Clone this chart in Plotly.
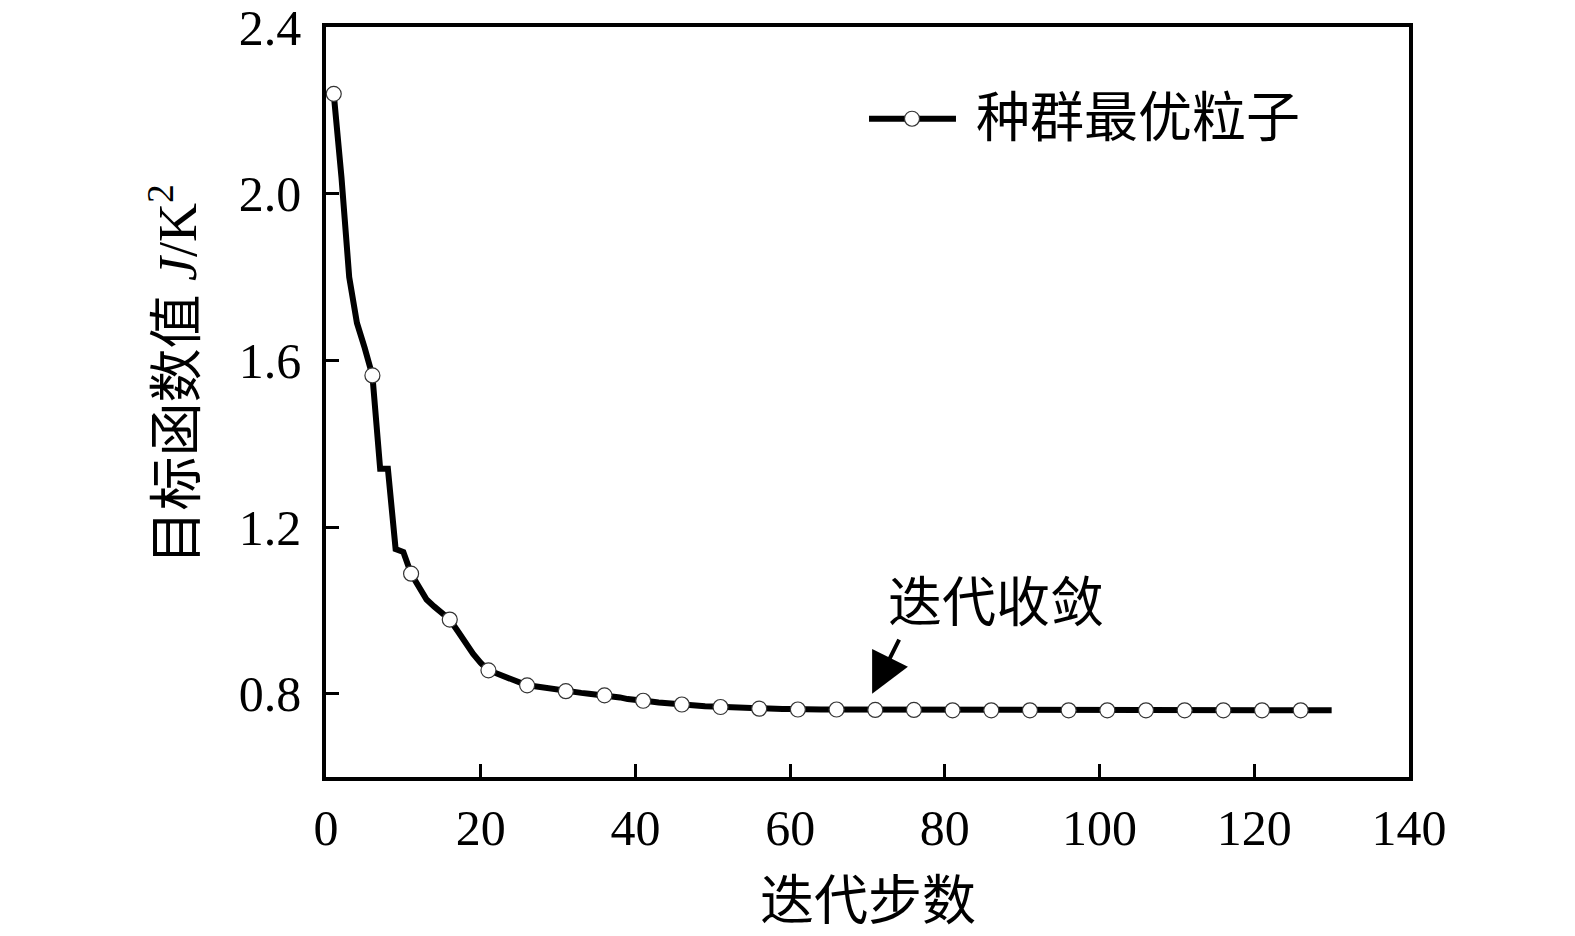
import plotly.graph_objects as go

# iteration index and best-particle objective value
iterations = list(range(1, 131))
best_value = [
    2.240, 2.040, 1.800, 1.690, 1.630, 1.564, 1.340, 1.340, 1.147, 1.140,
    1.088, 1.055, 1.026, 1.009, 0.993, 0.978, 0.951, 0.921, 0.896, 0.874,
    0.856, 0.849, 0.842, 0.836, 0.829, 0.820, 0.818, 0.815, 0.811, 0.808,
    0.806, 0.804, 0.802, 0.800, 0.798, 0.796, 0.795, 0.791, 0.787, 0.784,
    0.783, 0.781, 0.779, 0.777, 0.775, 0.774, 0.772, 0.771, 0.770, 0.769,
    0.768, 0.767, 0.766, 0.765, 0.765, 0.764, 0.764, 0.763, 0.763, 0.763,
    0.762, 0.762, 0.762, 0.762, 0.762, 0.762, 0.761, 0.761, 0.761, 0.761,
    0.761, 0.761, 0.761, 0.761, 0.761, 0.761, 0.761, 0.761, 0.760, 0.760,
    0.760, 0.760, 0.760, 0.760, 0.760, 0.760, 0.760, 0.760, 0.760, 0.760,
    0.760, 0.760, 0.760, 0.760, 0.760, 0.760, 0.760, 0.760, 0.760, 0.760,
    0.760, 0.760, 0.760, 0.760, 0.760, 0.760, 0.760, 0.760, 0.760, 0.760,
    0.760, 0.760, 0.760, 0.760, 0.760, 0.760, 0.760, 0.760, 0.760, 0.760,
    0.760, 0.760, 0.760, 0.760, 0.760, 0.760, 0.760, 0.760, 0.760, 0.760,
]
# markers every 5 iterations (1, 6, 11, ... 126)
marker_iter = iterations[0:126:5]
marker_value = best_value[0:126:5]

x_ticks = [0, 20, 40, 60, 80, 100, 120, 140]
y_ticks = [0.8, 1.2, 1.6, 2.0, 2.4]

legend_name = "种群最优粒子"
note_text = "迭代收敛"

FONT = "Liberation Serif, Noto Sans CJK SC, serif"

fig = go.Figure()

fig.add_trace(go.Scatter(
    x=iterations, y=best_value,
    mode="lines",
    line=dict(color="black", width=6),
    showlegend=False,
    hoverinfo="skip",
))
fig.add_trace(go.Scatter(
    x=marker_iter, y=marker_value,
    mode="markers",
    marker=dict(size=15, color="white", line=dict(color="#333333", width=1.2)),
    name=legend_name,
    showlegend=False,
))

# hand-drawn legend (long line sample like the original)
ly = 0.8777
fig.add_shape(type="line", xref="paper", yref="paper",
              x0=0.5014, x1=0.5817, y0=ly, y1=ly,
              line=dict(color="black", width=6))
fig.add_shape(type="circle", xref="paper", yref="paper",
              xsizemode="pixel", ysizemode="pixel",
              xanchor=0.5411, yanchor=ly,
              x0=-7.5, x1=7.5, y0=-7.5, y1=7.5,
              fillcolor="white", line=dict(color="#333333", width=1.2))
fig.add_annotation(xref="paper", yref="paper", x=0.598, y=ly,
                   text=legend_name, showarrow=False,
                   xanchor="left", yanchor="middle",
                   font=dict(family=FONT, size=54, color="black"))

# "converged" note with arrow
fig.add_annotation(x=86.6, y=1.016, text=note_text, showarrow=False,
                   font=dict(family=FONT, size=54, color="black"))
fig.add_annotation(x=70.6, y=0.80, text=" ", showarrow=True,
                   axref="pixel", ayref="pixel", ax=29, ay=-58,
                   arrowhead=2, arrowsize=2.0, arrowwidth=4,
                   arrowcolor="black", font=dict(size=4))

# axis titles
fig.add_annotation(xref="paper", yref="paper", x=0.5, y=-0.1667,
                   text="迭代步数", showarrow=False,
                   xanchor="center", yanchor="middle",
                   font=dict(family=FONT, size=54, color="black"))
fig.add_annotation(xref="paper", yref="paper", x=-0.141, y=0.537,
                   text="目标函数值 <i>J</i>/K<sup>2</sup>", showarrow=False,
                   textangle=-90, xanchor="center", yanchor="middle",
                   font=dict(family=FONT, size=54, color="black"))

axis_style = dict(
    showline=True, linecolor="black", linewidth=3.5, mirror=True,
    ticks="inside", ticklen=13, tickwidth=3, tickcolor="black",
    showgrid=False, zeroline=False, ticklabeloverflow="allow",
    automargin=False,
    tickfont=dict(family=FONT, size=50, color="black"),
)

fig.update_xaxes(range=[0, 140], tickvals=x_ticks, ticklabelstandoff=4,
                 **axis_style)
fig.update_yaxes(range=[0.6, 2.4005], tickvals=y_ticks, tickformat=".1f",
                 ticklabelstandoff=11, **axis_style)

fig.update_layout(
    width=1575, height=936,
    margin=dict(l=318, r=174, t=19, b=167),
    plot_bgcolor="white", paper_bgcolor="white",
    showlegend=False,
)

fig.write_html("out.html")
